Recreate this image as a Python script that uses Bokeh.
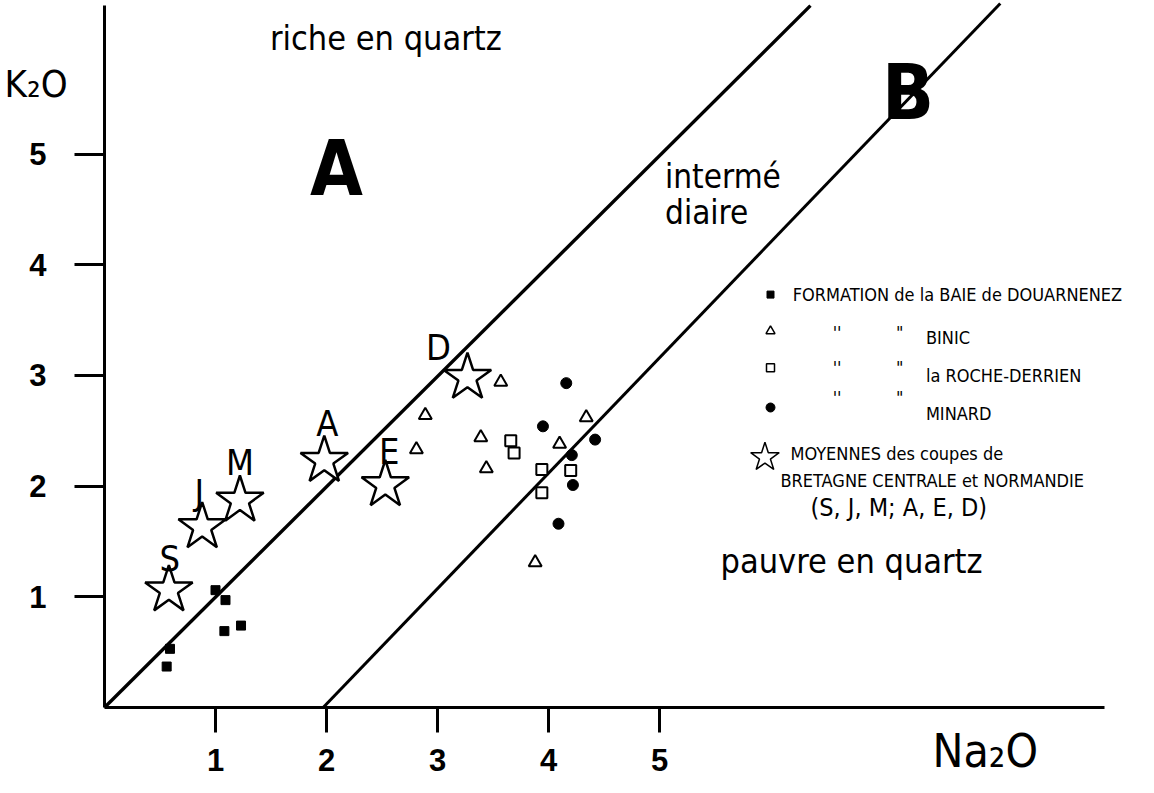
from bokeh.plotting import figure
from bokeh.models import Range1d, FixedTicker, Label
from bokeh.core.properties import value
from bokeh.embed import file_html
from bokeh.resources import INLINE

# ---------------- data (Na2O, K2O in %) ----------------
douarnenez_na2o = [0.59, 0.56, 1.00, 1.09, 1.08, 1.23]
douarnenez_k2o = [0.53, 0.37, 1.06, 0.97, 0.69, 0.74]

binic_na2o = [3.57, 2.89, 2.81, 3.39, 3.44, 4.34, 4.10, 3.88]
binic_k2o = [2.94, 2.64, 2.33, 2.44, 2.16, 2.62, 2.38, 1.31]

roche_na2o = [3.66, 3.69, 3.94, 3.94, 4.20]
roche_k2o = [2.41, 2.30, 2.15, 1.94, 2.14]

minard_na2o = [4.16, 3.95, 4.42, 4.21, 4.22, 4.09]
minard_k2o = [2.93, 2.54, 2.42, 2.28, 2.01, 1.66]

star_names = ["S", "J", "M", "A", "E", "D"]
star_na2o = [0.58, 0.88, 1.22, 1.98, 2.53, 3.27]
star_k2o = [1.06, 1.63, 1.87, 2.23, 2.01, 2.98]

boundary_A_na2o = [0.0, 6.36]
boundary_A_k2o = [0.0, 6.34]
boundary_B_na2o = [1.97, 8.07]
boundary_B_k2o = [0.0, 6.36]

x_ticks = [1, 2, 3, 4, 5]
y_ticks = [1, 2, 3, 4, 5]
x_axis_end = 9.01
y_axis_end = 6.34

# ---------------- figure ----------------
FC = "DejaVu Sans Condensed"
FB = "Liberation Sans"

W, H = 1138, 777
X0, UX = 104, 111.0      # canvas px of Na2O = 0, px per unit
Y0, UY = 707, 110.7      # canvas px of K2O = 0, px per unit

p = figure(width=W, height=H, output_backend="svg", toolbar_location=None,
           x_range=Range1d(-X0 / UX, (W - X0) / UX),
           y_range=Range1d(-(H - Y0) / UY, Y0 / UY),
           min_border=0, min_border_left=0, min_border_right=0,
           min_border_top=0, min_border_bottom=0,
           background_fill_color="white", border_fill_color="white")
p.outline_line_color = None
p.grid.visible = False

p.xaxis.fixed_location = 0
p.yaxis.fixed_location = 0
p.xaxis.bounds = (0, x_axis_end)
p.yaxis.bounds = (0, y_axis_end)

for ax, ticks in ((p.xaxis, x_ticks), (p.yaxis, y_ticks)):
    ax.ticker = FixedTicker(ticks=ticks)
    ax.axis_line_width = 3
    ax.axis_line_color = "black"
    ax.major_tick_line_width = 3
    ax.major_tick_line_color = "black"
    ax.major_tick_in = 0
    ax.minor_tick_line_color = None
    ax.major_label_text_font = FB
    ax.major_label_text_font_style = "bold"
    ax.major_label_text_font_size = "31px"
    ax.major_label_text_color = "black"
p.xaxis.major_tick_out = 25
p.xaxis.major_label_standoff = 16
p.yaxis.major_tick_out = 30
p.yaxis.major_label_standoff = 28

# boundary lines
p.line(boundary_A_na2o, boundary_A_k2o, line_color="black", line_width=3.4)
p.line(boundary_B_na2o, boundary_B_k2o, line_color="black", line_width=3)

# data points
p.scatter(douarnenez_na2o, douarnenez_k2o, marker="square", size=9,
          fill_color="black", line_color="black")
p.scatter(binic_na2o, binic_k2o, marker="triangle", size=13, fill_color="white",
          line_color="black", line_width=2)
p.scatter(roche_na2o, roche_k2o, marker="square", size=11, fill_color="white",
          line_color="black", line_width=2)
p.scatter(minard_na2o, minard_k2o, marker="circle", size=11, fill_color="black",
          line_color="black")
p.scatter(star_na2o, star_k2o, marker="star", size=50, fill_color="white",
          line_color="black", line_width=2.5)

# star labels (offset in pixels from each star)
lab_dx = [1, -3, 0, 3, 4, -29]
lab_dy = [-32, -35, -38, -37, -33, -30]
p.text(x=star_na2o, y=star_k2o, text=star_names, x_offset=lab_dx, y_offset=lab_dy,
       text_font=value(FC), text_font_size="36px", text_align="center",
       text_baseline="middle", text_color="black")


def lab(x, y, t, size, font=FC, style="normal", baseline="alphabetic", align="left"):
    p.add_layout(Label(x=x, y=y, text=t, text_font=font, text_font_size=size,
                       text_font_style=style, text_baseline=baseline,
                       text_align=align, text_color="black"))


# zone annotations
lab(1.49, 6.05, "riche en quartz", "34px")
lab(2.09, 4.87, "A", "76px", style="bold", align="center")
lab(7.24, 5.56, "B", "76px", style="bold", align="center")
lab(5.05, 4.80, "intermé", "33px")
lab(5.05, 4.47, "diaire", "33px")
lab(5.55, 1.32, "pauvre en quartz", "34px")

# axis titles
lab(-0.90, 5.63, "K₂O", "38px")
lab(7.46, -0.39, "Na₂O", "46px")

# legend
mx = 6.00
p.scatter([mx], [3.73], marker="square", size=7, fill_color="black", line_color="black")
p.scatter([mx], [3.40], marker="triangle", size=9, fill_color="white",
          line_color="black", line_width=1.5)
p.scatter([mx], [3.07], marker="square", size=8, fill_color="white",
          line_color="black", line_width=1.5)
p.scatter([mx], [2.71], marker="circle", size=9, fill_color="black", line_color="black")
p.scatter([5.95], [2.26], marker="star", size=30, fill_color="white",
          line_color="black", line_width=1.5)

LS = "18px"
lab(6.20, 3.73, "FORMATION de la BAIE de DOUARNENEZ", LS, baseline="middle")
for y_q, y_t, name in ((3.39, 3.34, "BINIC"), (3.07, 3.00, "la ROCHE-DERRIEN"),
                       (2.80, 2.66, "MINARD")):
    lab(6.56, y_q, "''", LS, baseline="middle")
    lab(7.13, y_q, '"', LS, baseline="middle")
    lab(7.40, y_t, name, LS, baseline="middle")
lab(6.18, 2.29, "MOYENNES des coupes de", LS, baseline="middle")
lab(6.09, 2.05, "BRETAGNE CENTRALE et NORMANDIE", LS, baseline="middle")
lab(6.36, 1.81, "(S, J, M; A, E, D)", "25px", baseline="middle")

open("out.html", "w").write(file_html(p, INLINE))
